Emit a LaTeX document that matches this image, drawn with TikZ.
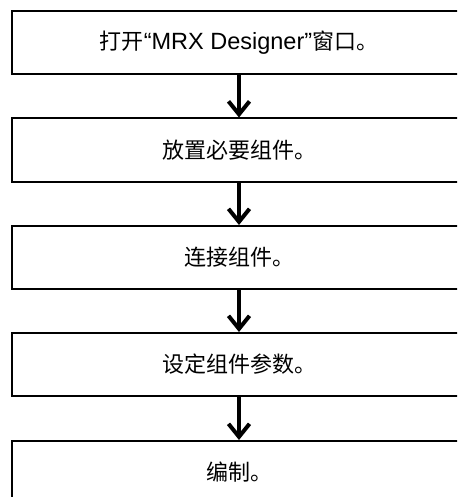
\documentclass[tikz,border=0pt]{standalone}
\usepackage{fontspec}
\setmainfont{Liberation Sans}
\newfontfamily\cjk{Noto Sans CJK SC}
\usetikzlibrary{arrows.meta}
\begin{document}
\begin{tikzpicture}[x=1pt,y=-1pt,
  stepbox/.style={draw, line width=2pt, minimum width=454pt, minimum height=63pt,
    inner sep=0pt, font=\fontsize{22}{26}\selectfont\cjk},
  flow/.style={line width=4.5pt, -{Straight Barb[length=13pt,width=21pt,line width=4pt]}}]
\clip (0,0) rectangle (457,497);
\fill[white] (0,0) rectangle (457,497);
\node[stepbox] (s1) at (239,42.5) {打开{\fontsize{23.5}{26}\rmfamily “MRX Designer”}窗口。};
\node[stepbox] (s2) at (239,150) {放置必要组件。};
\node[stepbox] (s3) at (239,257.5) {连接组件。};
\node[stepbox] (s4) at (239,364.5) {设定组件参数。};
\node[stepbox] (s5) at (239,472.5) {编制。};
\draw[flow] (s1.south) -- (s2.north);
\draw[flow] (s2.south) -- (s3.north);
\draw[flow] (s3.south) -- (s4.north);
\draw[flow] (s4.south) -- (s5.north);
\end{tikzpicture}
\end{document}
